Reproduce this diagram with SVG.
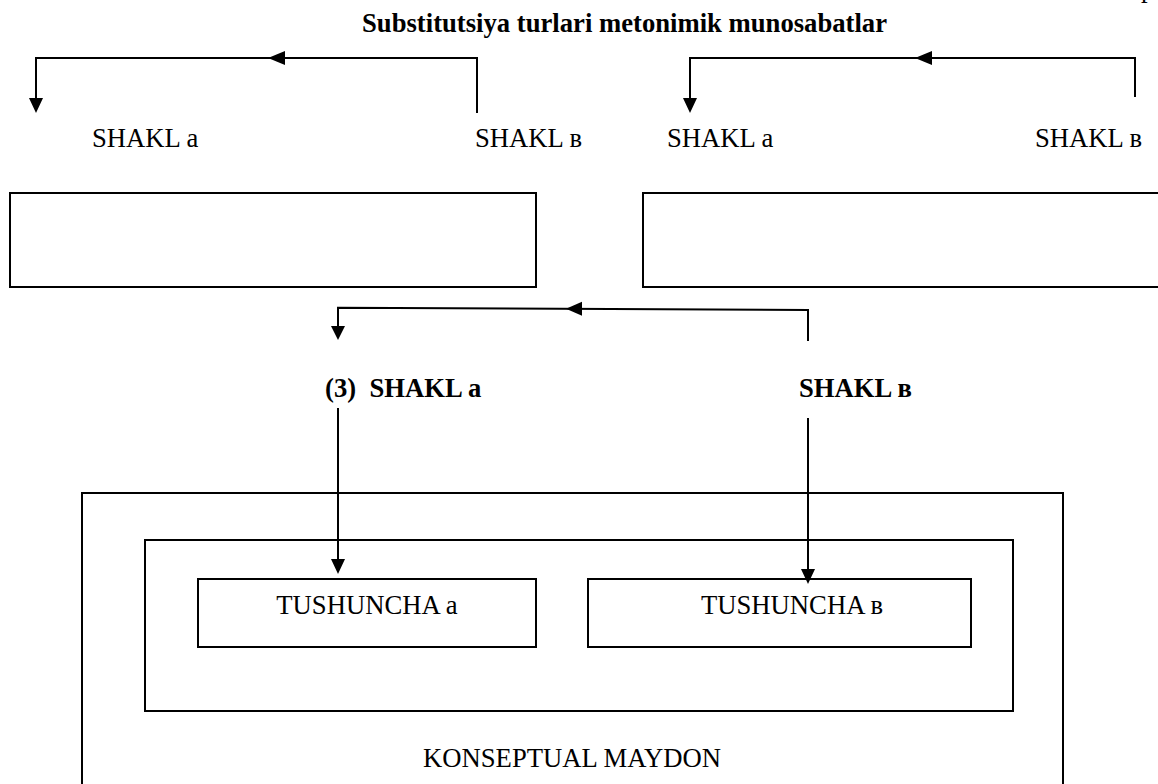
<svg xmlns="http://www.w3.org/2000/svg" width="1158" height="784" viewBox="0 0 1158 784">
<style>
text{font-family:"Liberation Serif","Times New Roman",serif;font-size:26.67px;fill:#000}
.b{font-weight:bold}
.box{fill:none;stroke:#000;stroke-width:2}
.ln{fill:none;stroke:#000;stroke-width:2}
.ah{fill:#000;stroke:none}
</style>
<rect width="1158" height="784" fill="#fff"/>
<text x="1141" y="-3">p</text>
<g id="title"><text class="b" x="362" y="32">Substitutsiya turlari metonimik munosabatlar</text></g>
<g id="shakl-a-1"><text x="92" y="147">SHAKL a</text></g>
<g id="shakl-b-1"><text x="475" y="147">SHAKL в</text></g>
<g id="shakl-a-2"><text x="667" y="147">SHAKL a</text></g>
<g id="shakl-b-2"><text x="1035" y="147">SHAKL в</text></g>
<g id="box-left"><rect class="box" x="10" y="193" width="526" height="94"/></g>
<g id="box-right"><rect class="box" x="643" y="193" width="530" height="94"/></g>
<g id="shakl-a-3"><text class="b" x="325" y="397" xml:space="preserve">(3)  SHAKL a</text></g>
<g id="shakl-b-3"><text class="b" x="799" y="397">SHAKL в</text></g>
<g id="konseptual"><rect class="box" x="82" y="493" width="981" height="300"/><text x="572" y="767" text-anchor="middle">KONSEPTUAL MAYDON</text></g>
<g id="inner"><rect class="box" x="145" y="540" width="868" height="171"/></g>
<g id="tushuncha-a"><rect class="box" x="198" y="579" width="338" height="68"/><text x="367" y="614" text-anchor="middle">TUSHUNCHA a</text></g>
<g id="tushuncha-b"><rect class="box" x="588" y="579" width="383" height="68"/><text x="701" y="614">TUSHUNCHA в</text></g>
<g id="connectors">
<path class="ln" d="M477,113 V58 H36 V100"/>
<polygon class="ah" points="29,98 43,98 36,113"/>
<polygon class="ah" points="268,58 285,51 285,65"/>
<path class="ln" d="M1135,97 V58 H690 V100"/>
<polygon class="ah" points="683,98 697,98 690,113"/>
<polygon class="ah" points="915,58 932,51 932,65"/>
<path class="ln" d="M808,341 V310 L338,307.7 V328"/>
<polygon class="ah" points="331,326 345,326 338,340"/>
<polygon class="ah" points="566,308.8 582,301.8 582,315.8"/>
<path class="ln" d="M338,408 V562"/>
<polygon class="ah" points="331,559 345,559 338,574"/>
<path class="ln" d="M808,418 V572"/>
<polygon class="ah" points="801,569 815,569 808,584"/>
</g>
</svg>
